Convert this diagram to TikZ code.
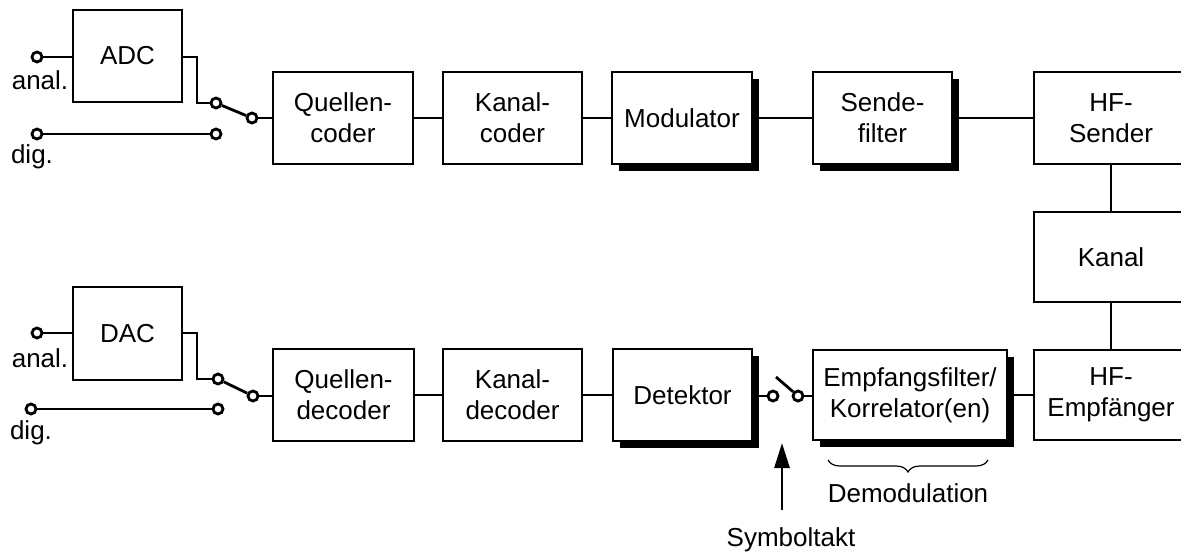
\documentclass[tikz,border=0pt]{standalone}
\usepackage{fontspec}
\setmainfont{Liberation Sans}
\usetikzlibrary{shadows,arrows.meta,decorations.pathreplacing}
\begin{document}
\begin{tikzpicture}[x=0.5pt,y=-0.5pt, line width=1.4pt,
  blk/.style={draw, fill=white, inner sep=0pt, align=center, font=\fontsize{13}{15.5}\selectfont},
  shd/.style={blk, drop shadow={shadow xshift=3.7pt, shadow yshift=-3.7pt, fill=black, opacity=1}},
  term/.style={circle, draw, fill=white, inner sep=0pt, minimum size=5pt},
  lbl/.style={font=\fontsize{13}{15.5}\selectfont, inner sep=0pt}]
\useasboundingbox (0,0) rectangle (1181,553);
\clip (0,0) rectangle (1181,553);

% blocks
\node[blk, minimum width=54.5pt, minimum height=46pt] (adc) at (127.5,56) {ADC};
\node[blk, minimum width=54.5pt, minimum height=46.5pt] (dac) at (127.5,333.5) {DAC};
\node[blk, minimum width=70pt, minimum height=46pt] (qc) at (343,118) {Quellen-\\coder};
\node[blk, minimum width=69.5pt, minimum height=46pt] (kc) at (512.5,118) {Kanal-\\coder};
\node[shd, minimum width=70pt, minimum height=46pt] (mod) at (682,118) {Modulator};
\node[shd, minimum width=69.5pt, minimum height=46pt] (sf) at (882.5,118) {Sende-\\filter};
\node[blk, minimum width=77pt, minimum height=46pt] (hfs) at (1111,118) {HF-\\Sender};
\node[blk, minimum width=77pt, minimum height=45pt] (kan) at (1111,257) {Kanal};
\node[blk, minimum width=77pt, minimum height=45pt] (hfe) at (1111,395) {HF-\\Empfänger};
\node[blk, minimum width=70.5pt, minimum height=46pt] (qd) at (343.5,395) {Quellen-\\decoder};
\node[blk, minimum width=69.5pt, minimum height=46pt] (kd) at (512.5,395) {Kanal-\\decoder};
\node[shd, minimum width=69.5pt, minimum height=46pt] (det) at (682.5,395) {Detektor};
\node[shd, minimum width=97pt, minimum height=45pt] (ef) at (910,395) {Empfangsfilter/\\Korrelator(en)};

% terminals top
\node[term] (ta1) at (37,57) {};
\node[term] (td1) at (37,134) {};
\node[term] (ts1) at (216,134) {};
\node[term] (tao1) at (216,103) {};
\node[term] (tc1) at (252,118) {};
\coordinate (b1) at (197,103);
% terminals bottom
\node[term] (ta2) at (37,333) {};
\node[term] (td2) at (31,409) {};
\node[term] (ts2) at (218,409) {};
\node[term] (tao2) at (218,379) {};
\node[term] (tc2) at (253,396) {};
\coordinate (b2) at (197,379);
% sampling switch
\node[term] (sw1) at (773,396) {};
\node[term] (sw2) at (798,396) {};
\coordinate (swarm) at (776,377);

% connectors top
\draw (ta1) -- (ta1 -| adc.west);
\draw (adc.east |- ta1) -| (b1) -- (tao1);
\draw (td1) -- (ts1);
\draw (tao1) -- (tc1);
\draw (tc1) -- (tc1 -| qc.west);
\draw (qc) -- (kc);
\draw (kc) -- (mod);
\draw (mod) -- (sf);
\draw (sf) -- (hfs);
\draw (hfs) -- (kan);
\draw (kan) -- (hfe);
% connectors bottom
\draw (hfe) -- (ef);
\draw (sw2) -- (sw2 -| ef.west);
\draw (sw2) -- (swarm);
\draw (sw1) -- (sw1 -| det.east);
\draw (det) -- (kd);
\draw (kd) -- (qd);
\draw (tc2) -- (tc2 -| qd.west);
\draw (tao2) -- (tc2);
\draw (td2) -- (ts2);
\draw (dac.east |- ta2) -| (b2) -- (tao2);
\draw (ta2) -- (ta2 -| dac.west);

% labels
\node[lbl] (la1) at (40,80) {anal.};
\node[lbl] (ld1) at (32,157) {dig.};
\node[lbl] (la2) at (40,358) {anal.};
\node[lbl] (ld2) at (31,433) {dig.};

% brace and Symboltakt
\coordinate (br0) at (828,460);
\coordinate (br1) at (988,460);
\draw[line width=0.6pt, decorate, decoration={brace, mirror, amplitude=6pt}] (br0) -- (br1);
\node[lbl] (demod) at (908,493) {Demodulation};
\coordinate (ar0) at (782,510);
\coordinate (ar1) at (782,443);
\draw[-{Triangle[length=12.5pt,width=7.5pt]}] (ar0) -- (ar1);
\node[lbl] (sym) at (791,540) {Symboltakt};
\end{tikzpicture}
\end{document}
